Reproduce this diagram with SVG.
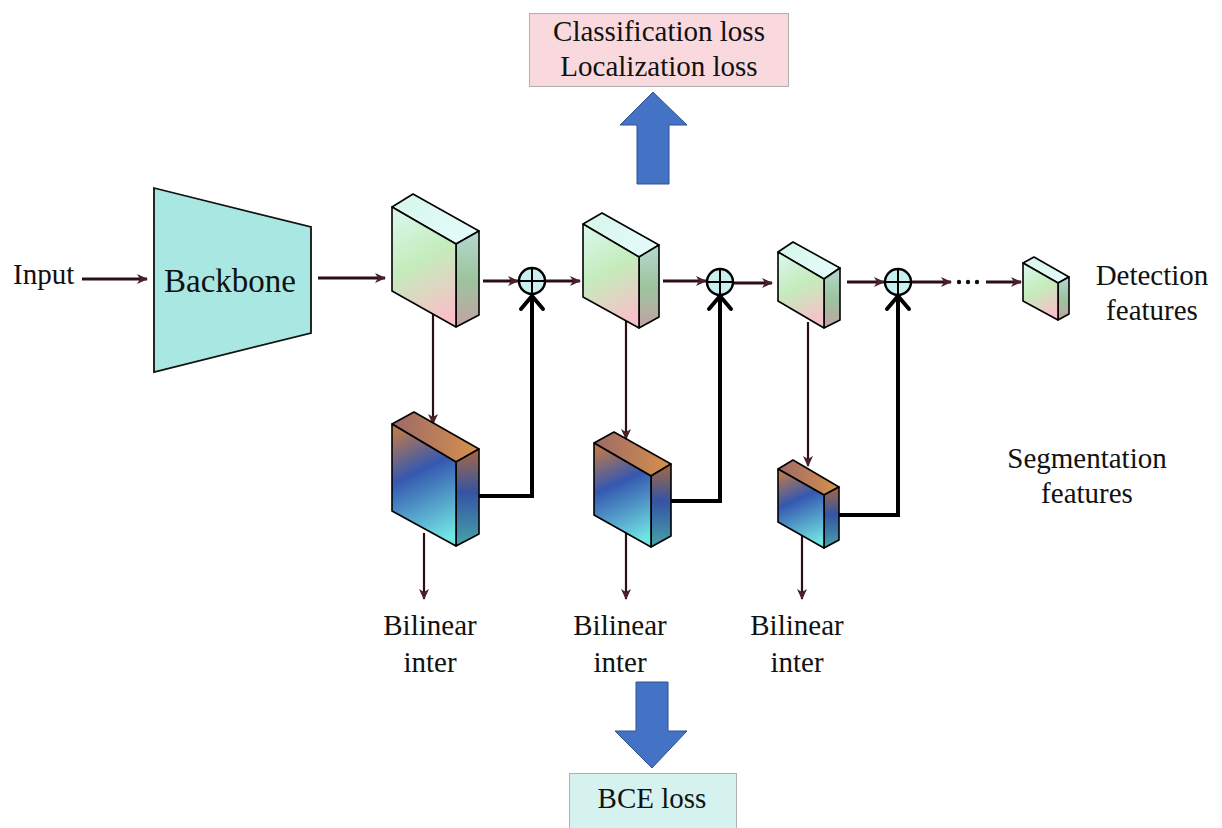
<svg xmlns="http://www.w3.org/2000/svg" width="1222" height="828" viewBox="0 0 1222 828">
  <defs>
    <!-- detection feature block faces -->
    <linearGradient id="detFront" x1="0.3" y1="0" x2="0.6" y2="1">
      <stop offset="0" stop-color="#d8f6e8"/>
      <stop offset="0.45" stop-color="#c4ecbc"/>
      <stop offset="1" stop-color="#f8c0c8"/>
    </linearGradient>
    <linearGradient id="detTop" x1="0" y1="0" x2="1" y2="1">
      <stop offset="0" stop-color="#d6f6ea"/>
      <stop offset="1" stop-color="#e6fcfb"/>
    </linearGradient>
    <linearGradient id="detSide" x1="0" y1="0" x2="0" y2="1">
      <stop offset="0" stop-color="#b6d8d0"/>
      <stop offset="0.5" stop-color="#9cc49e"/>
      <stop offset="1" stop-color="#c2a2a4"/>
    </linearGradient>
    <!-- segmentation feature block faces -->
    <linearGradient id="segFront" x1="0.35" y1="0" x2="0.6" y2="1">
      <stop offset="0" stop-color="#b67850"/>
      <stop offset="0.38" stop-color="#3558b0"/>
      <stop offset="1" stop-color="#72e6e4"/>
    </linearGradient>
    <linearGradient id="segTop" x1="0" y1="0.5" x2="1" y2="0.5">
      <stop offset="0" stop-color="#9a6a68"/>
      <stop offset="1" stop-color="#d8904c"/>
    </linearGradient>
    <linearGradient id="segSide" x1="0" y1="0" x2="0" y2="1">
      <stop offset="0" stop-color="#a8683e"/>
      <stop offset="0.45" stop-color="#3454a4"/>
      <stop offset="1" stop-color="#48a4a8"/>
    </linearGradient>
    <marker id="arrow" markerUnits="userSpaceOnUse" markerWidth="12" markerHeight="12" refX="10" refY="6" orient="auto">
      <path d="M0,1 L11,6 L0,11 L3,6 z" fill="#4a2029"/>
    </marker>
    <marker id="chev" markerUnits="userSpaceOnUse" markerWidth="30" markerHeight="30" refX="16" refY="15" orient="auto">
      <path d="M3,4 L16,15 L3,26" fill="none" stroke="#000" stroke-width="4" stroke-linecap="round" stroke-linejoin="round"/>
    </marker>
    <style>
      .mid { text-anchor: middle; }
      .edge { stroke: #000; stroke-width: 1.6; stroke-linejoin: round; }
      .thin { fill: none; stroke: #2a0f14; stroke-width: 3; }
      .vthin { fill: none; stroke: #2a0f14; stroke-width: 2.2; }
      .fuse { fill: none; stroke: #000; stroke-width: 4; }
      .sum { fill: #c9f0ee; stroke: #000; stroke-width: 2.4; }
      .sumx { stroke: #000; stroke-width: 2; }
      .big { fill: #4472c4; stroke: #2f528f; stroke-width: 1; }
    </style>
  </defs>

  <rect width="1222" height="828" fill="#fff"/>

  <!-- connectors -->
  <g id="connectors">
    <line class="thin" x1="82" y1="279" x2="147" y2="279" marker-end="url(#arrow)"/>
    <line class="thin" x1="318" y1="278" x2="385" y2="278" marker-end="url(#arrow)"/>
    <line class="thin" x1="483" y1="281" x2="518" y2="281" marker-end="url(#arrow)"/>
    <line class="thin" x1="545" y1="281" x2="580" y2="281" marker-end="url(#arrow)"/>
    <line class="thin" x1="663" y1="281" x2="706" y2="281" marker-end="url(#arrow)"/>
    <line class="thin" x1="733" y1="283" x2="772" y2="283" marker-end="url(#arrow)"/>
    <line class="thin" x1="847" y1="282" x2="884" y2="282" marker-end="url(#arrow)"/>
    <line class="thin" x1="912" y1="282" x2="951" y2="282" marker-end="url(#arrow)"/>
    <circle cx="959" cy="282" r="2.2" fill="#111"/>
    <circle cx="968" cy="282" r="2.2" fill="#111"/>
    <circle cx="977" cy="282" r="2.2" fill="#111"/>
    <line class="thin" x1="986" y1="282" x2="1021" y2="282" marker-end="url(#arrow)"/>

    <!-- detection to segmentation -->
    <line class="vthin" x1="433" y1="314" x2="433" y2="424" marker-end="url(#arrow)"/>
    <line class="vthin" x1="626" y1="320" x2="626" y2="439" marker-end="url(#arrow)"/>
    <line class="vthin" x1="808" y1="322" x2="808" y2="466" marker-end="url(#arrow)"/>

    <!-- segmentation outputs -->
    <line class="vthin" x1="424" y1="533" x2="424" y2="599" marker-end="url(#arrow)"/>
    <line class="vthin" x1="626" y1="532" x2="626" y2="599" marker-end="url(#arrow)"/>
    <line class="vthin" x1="802" y1="533" x2="802" y2="599" marker-end="url(#arrow)"/>

    <!-- fusion paths into the sums -->
    <path class="fuse" d="M465,496 H532 V296" marker-end="url(#chev)"/>
    <path class="fuse" d="M664,501 H720 V296" marker-end="url(#chev)"/>
    <path class="fuse" d="M832,515 H898 V296" marker-end="url(#chev)"/>
  </g>

  <g font-family="'Liberation Serif', 'Times New Roman', serif" font-size="29" fill="#111">
  <g id="input">
    <text x="13" y="284">Input</text>
  </g>

  <g id="backbone">
    <polygon points="154,188 311,227 311,333 154,372" fill="#a9e8e2" stroke="#111" stroke-width="1.8"/>
    <text class="mid" x="230" y="292" font-size="33">Backbone</text>
  </g>

  <!-- detection feature blocks -->
  <g id="det1">
    <polygon class="edge" points="392,207 413,194 479,231 456,244" fill="url(#detTop)"/>
    <polygon class="edge" points="456,244 479,231 479,315 456,327" fill="url(#detSide)"/>
    <polygon class="edge" points="392,207 456,244 456,327 392,291" fill="url(#detFront)"/>
  </g>
  <g id="det2">
    <polygon class="edge" points="583,224 602,213 659,245 639,257" fill="url(#detTop)"/>
    <polygon class="edge" points="639,257 659,245 659,317 639,328" fill="url(#detSide)"/>
    <polygon class="edge" points="583,224 639,257 639,328 583,297" fill="url(#detFront)"/>
  </g>
  <g id="det3">
    <polygon class="edge" points="778,252 793,242 840,268 824,279" fill="url(#detTop)"/>
    <polygon class="edge" points="824,279 840,268 840,320 824,328" fill="url(#detSide)"/>
    <polygon class="edge" points="778,252 824,279 824,328 778,301" fill="url(#detFront)"/>
  </g>
  <g id="det4">
    <polygon class="edge" points="1023,263 1034,257 1069,277 1058,283" fill="url(#detTop)"/>
    <polygon class="edge" points="1058,283 1069,277 1069,314 1058,320" fill="url(#detSide)"/>
    <polygon class="edge" points="1023,263 1058,283 1058,320 1023,301" fill="url(#detFront)"/>
  </g>

  <!-- segmentation feature blocks -->
  <g id="seg1">
    <polygon class="edge" points="392,424 414,412 479,449 456,462" fill="url(#segTop)"/>
    <polygon class="edge" points="456,462 479,449 479,534 456,546" fill="url(#segSide)"/>
    <polygon class="edge" points="392,424 456,462 456,546 392,511" fill="url(#segFront)"/>
  </g>
  <g id="seg2">
    <polygon class="edge" points="594,443 614,432 671,464 651,476" fill="url(#segTop)"/>
    <polygon class="edge" points="651,476 671,464 671,536 651,547" fill="url(#segSide)"/>
    <polygon class="edge" points="594,443 651,476 651,547 594,515" fill="url(#segFront)"/>
  </g>
  <g id="seg3">
    <polygon class="edge" points="778,469 793,460 839,487 824,495" fill="url(#segTop)"/>
    <polygon class="edge" points="824,495 839,487 839,540 824,548" fill="url(#segSide)"/>
    <polygon class="edge" points="778,469 824,495 824,548 778,522" fill="url(#segFront)"/>
  </g>

  <!-- element-wise sums -->
  <g id="sum1">
    <circle class="sum" cx="532" cy="281" r="13"/>
    <line class="sumx" x1="519" y1="281" x2="545" y2="281"/>
    <line class="sumx" x1="532" y1="268" x2="532" y2="294"/>
  </g>
  <g id="sum2">
    <circle class="sum" cx="720" cy="282" r="13"/>
    <line class="sumx" x1="707" y1="282" x2="733" y2="282"/>
    <line class="sumx" x1="720" y1="269" x2="720" y2="295"/>
  </g>
  <g id="sum3">
    <circle class="sum" cx="898" cy="282" r="13"/>
    <line class="sumx" x1="885" y1="282" x2="911" y2="282"/>
    <line class="sumx" x1="898" y1="269" x2="898" y2="295"/>
  </g>

  <g id="det-label">
    <text class="mid" x="1152" y="285">Detection</text>
    <text class="mid" x="1152" y="320">features</text>
  </g>
  <g id="seg-label">
    <text class="mid" x="1087" y="468">Segmentation</text>
    <text class="mid" x="1087" y="503">features</text>
  </g>

  <g id="bilinear1">
    <text class="mid" x="430" y="635">Bilinear</text>
    <text class="mid" x="430" y="672">inter</text>
  </g>
  <g id="bilinear2">
    <text class="mid" x="620" y="635">Bilinear</text>
    <text class="mid" x="620" y="672">inter</text>
  </g>
  <g id="bilinear3">
    <text class="mid" x="797" y="635">Bilinear</text>
    <text class="mid" x="797" y="672">inter</text>
  </g>

  <!-- detection losses -->
  <g id="det-loss">
    <rect x="529.5" y="13.5" width="259" height="73" fill="#f9d9de" stroke="#b0b0b0" stroke-width="1"/>
    <text class="mid" x="659" y="41">Classification loss</text>
    <text class="mid" x="659" y="76">Localization loss</text>
  </g>
  <g id="det-loss-arrow">
    <polygon class="big" points="653,92 687,125 669,125 669,184 637,184 637,125 620,125"/>
  </g>

  <!-- segmentation loss -->
  <g id="seg-loss-arrow">
    <polygon class="big" points="636,682 668,682 668,731 687,731 652,768 615,731 636,731"/>
  </g>
  <g id="seg-loss">
    <rect x="569.5" y="773.5" width="167" height="60" fill="#d5f2ef" stroke="#b0b0b0" stroke-width="1"/>
    <text class="mid" x="652" y="808">BCE loss</text>
  </g>
  </g>
</svg>
